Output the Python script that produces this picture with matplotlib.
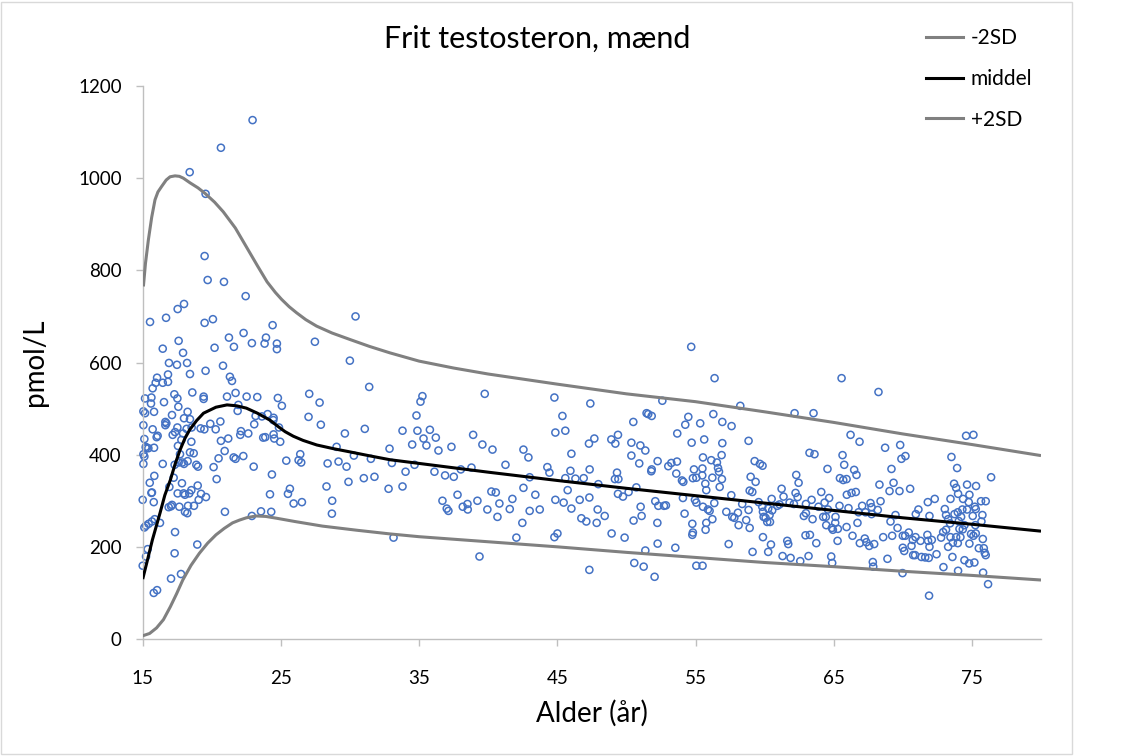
import matplotlib
matplotlib.use("Agg")
import matplotlib.pyplot as plt
from matplotlib.lines import Line2D
from matplotlib.patches import Rectangle

plt.rcParams['font.family'] = ['Lato', 'DejaVu Sans']

# ---------------- data ----------------
title = "Frit testosteron, mænd"
x_label = "Alder (år)"
y_label = "pmol/L"
x_ticks = [15, 25, 35, 45, 55, 65, 75]
y_ticks = [0, 200, 400, 600, 800, 1000, 1200]
legend_labels = ['-2SD', 'middel', '+2SD']

# reference curves (age, pmol/L)
sd_minus_age = [15.0, 15.5, 16.0, 16.5, 17.0, 17.45, 17.9, 18.5, 19.1, 19.7, 20.3, 20.9, 21.5,
                22.0, 22.5, 23.2, 23.9, 24.7, 26.0, 28.0, 30.5, 32.9, 35, 40, 45, 50, 55,
                60, 65, 70, 75, 80]
sd_minus_val = [7, 12, 24, 42, 70, 98, 128, 160, 186, 208, 226, 240, 252,
                258, 263, 267, 266, 262, 255, 245, 236, 228, 222, 211, 200, 188, 177,
                166, 157, 147, 138, 128]

mid_age = [15.0, 15.35, 15.7, 16.25, 16.6, 17.0, 17.35, 17.7, 18.05, 18.4, 18.9, 19.4, 20.3,
           21.1, 21.8, 22.5, 23.3, 24.2, 24.8, 25.3, 25.9, 26.6, 27.6, 28.8, 30.0, 31.5,
           32.9, 35, 40, 45, 50, 55, 60, 65, 70, 75, 80]
mid_val = [130, 172, 215, 273, 312, 345, 380, 410, 435, 454, 474, 490, 503,
           508, 506, 501, 490, 475, 461, 450, 440, 431, 421, 413, 406, 397,
           389, 381, 362, 344, 327, 311, 295, 279, 263, 249, 234]

sd_plus_age = [15.05, 15.2, 15.41, 15.65, 15.89, 16.1, 16.37, 16.7, 16.98, 17.34, 17.65, 17.94,
               18.42, 19.0, 19.51, 20.2, 20.83, 21.7, 22.52, 23.3, 24.0, 24.6, 25.05, 25.6,
               26.13, 26.8, 27.58, 28.7, 29.99, 31.4, 32.88, 35, 37.5, 40, 42.5, 45, 50, 55,
               60, 65, 70, 75, 80]
sd_plus_val = [765, 815, 866, 915, 953, 970, 982, 996, 1003, 1005, 1004, 1000,
               990, 979, 967, 948, 927, 892, 850, 810, 775, 752, 737, 721,
               708, 693, 679, 664, 650, 635, 621, 603, 588, 575, 564, 553, 532, 515,
               493, 470, 445, 422, 398]

# individual measurements
obs_age = [
    22.95, 20.66, 18.40, 19.55, 19.48, 19.70, 20.88, 22.45, 15.53, 16.69, 17.53, 17.99, 19.48, 20.08,
    30.40, 16.45, 17.60, 17.92, 20.20, 21.24, 21.60, 22.30, 22.90, 23.82, 23.92, 24.40, 24.71, 24.71,
    27.46,
    16.90, 17.48, 18.21, 18.42, 19.55, 20.81, 21.31, 21.46, 16.04, 15.94, 16.45, 16.83, 16.83, 15.72,
    15.63, 15.17, 15.60, 17.29, 18.59, 17.51, 16.54, 19.41, 19.41, 21.10, 21.72, 22.52, 23.29, 24.78,
    25.07, 27.05, 27.80, 31.39, 29.99, 15.05, 15.17, 15.82, 18.25, 17.58, 21.92, 21.87, 23.17, 23.63,
    24.04, 24.47, 27.00, 15.05, 15.72, 16.08, 16.01, 16.64, 16.64, 16.71, 17.12, 17.51, 17.99, 18.18,
    17.92, 18.42, 18.54, 19.19, 19.46, 19.89, 20.28, 20.62, 22.11, 22.06, 22.64, 23.07, 23.72, 23.87,
    24.47, 24.52, 24.95, 24.45, 24.86, 27.89, 29.63, 31.07, 15.12, 15.22, 15.24, 15.41, 15.05, 15.12,
    15.82, 17.34, 17.17, 17.55, 17.70, 17.80, 18.52, 18.69, 18.42, 20.66, 21.19, 20.93, 20.49, 21.58,
    21.72, 22.28, 26.40, 26.47, 25.39, 26.28, 29.03, 30.28, 31.51, 15.05, 16.45, 15.84, 17.31, 17.60,
    17.87, 17.99, 18.25, 18.88, 19.00, 20.13, 20.35, 23.03, 24.35, 28.38, 29.17, 29.75, 31.00, 31.77,
    29.89, 28.30, 15.51, 15.67, 15.63, 16.93, 17.24, 17.53, 17.84, 17.96, 18.06, 18.37, 18.52, 18.98,
    19.05, 19.22, 19.58, 24.21, 25.51, 25.65, 28.71, 15.00, 15.80, 16.88, 17.05, 17.12, 17.65, 18.06,
    18.23, 18.28, 18.71, 20.95, 22.90, 23.56, 24.30, 25.92, 26.52, 28.69, 16.25, 15.67, 15.43, 15.24,
    15.12, 15.87, 17.34, 18.95, 15.36, 15.24, 17.31, 15.00, 17.05, 17.77, 15.80, 16.04,
    54.69, 39.75, 35.24, 35.10, 44.79, 47.39, 52.60, 34.81, 45.37, 51.46, 51.58, 51.83, 54.48, 50.50,
    54.26, 55.34, 33.80, 34.88, 35.78, 35.32, 36.21, 38.91, 44.86, 45.58, 53.68, 48.91, 47.68, 49.39,
    34.50, 35.53, 37.34, 39.58, 42.55, 40.31, 36.40, 32.86, 47.29, 49.20, 50.36, 51.01, 51.37, 54.72,
    55.63, 42.91, 46.02, 50.36, 50.93, 52.26, 53.66, 53.25, 53.03, 55.54, 33.03, 34.67, 41.25, 38.79,
    38.02, 34.02, 36.11, 36.88, 37.51, 44.28, 44.43, 45.95, 47.34, 51.83, 51.80, 53.61, 54.89, 55.06,
    55.49, 54.81, 55.71, 43.00, 45.58, 46.31, 46.91, 49.17, 49.42, 49.32, 54.02, 54.12, 47.97, 50.72,
    32.79, 33.80, 37.78, 40.23, 40.55, 42.55, 43.41, 45.75, 49.39, 49.75, 50.16, 55.78, 36.69, 38.16,
    38.50, 38.52, 37.00, 37.12, 39.22, 39.94, 40.81, 41.56, 41.75, 43.00, 43.73, 44.86, 45.46, 46.02,
    46.62, 47.32, 47.92, 48.43, 51.03, 51.10, 52.09, 52.31, 52.72, 52.86, 54.09, 54.96, 55.06, 55.54,
    55.90, 40.67, 42.47, 46.74, 47.10, 47.85, 50.52, 52.24, 54.21, 54.77, 55.78, 33.15, 42.04, 44.79,
    45.01, 48.93, 49.87, 54.81, 54.77, 55.73, 39.37, 51.37, 52.26, 53.54, 47.32, 50.57, 51.25, 52.04,
    55.06, 55.51,
    56.38, 65.57, 68.24, 58.24, 62.17, 63.54, 56.29, 56.94, 57.61, 74.58, 75.11, 66.22, 66.87, 56.94,
    58.84, 68.72, 69.81, 56.89, 56.14, 56.55, 63.25, 63.61, 65.64, 73.52, 69.90, 70.19, 59.28, 59.66,
    59.85, 65.76, 64.55, 69.18, 73.93, 76.39, 56.63, 56.70, 56.22, 56.91, 58.99, 59.35, 62.29, 62.46,
    66.48, 66.65, 65.45, 65.69, 65.93, 68.31, 69.33, 73.71, 73.86, 74.65, 75.30, 56.75, 57.59, 58.92,
    59.11, 61.23, 61.37, 62.24, 62.39, 64.10, 64.67, 65.95, 66.29, 66.60, 69.04, 69.76, 70.53, 74.00,
    74.82, 56.36, 58.38, 59.57, 60.51, 61.81, 62.12, 62.99, 63.40, 63.90, 64.34, 65.42, 66.07, 67.06,
    67.66, 67.74, 68.39, 71.81, 72.31, 73.45, 74.36, 74.77, 75.66, 76.00, 56.02, 59.83, 59.88, 60.26,
    60.55, 60.92, 61.08, 58.84, 57.23, 57.66, 57.81, 58.07, 59.93, 60.07, 60.36, 60.39, 62.84, 62.99,
    64.24, 64.43, 64.58, 65.13, 65.11, 66.80, 67.30, 67.74, 68.19, 69.47, 70.94, 71.13, 71.93, 73.04,
    73.13, 73.74, 73.98, 74.31, 74.65, 75.06, 75.21, 75.76, 75.28, 56.22, 58.67, 58.12, 58.92, 60.19,
    63.47, 64.46, 64.87, 64.94, 65.30, 65.93, 66.72, 69.11, 69.62, 73.28, 73.42, 74.05, 74.22, 74.46,
    75.69, 75.25, 74.10, 74.34, 74.94, 75.11, 75.28, 73.13, 72.92, 59.88, 61.64, 61.71, 62.96, 63.28,
    63.74, 65.28, 66.36, 66.89, 67.25, 67.37, 67.57, 67.93, 68.58, 69.23, 70.00, 70.17, 70.43, 70.63,
    70.72, 70.92, 71.28, 71.78, 71.83, 71.93, 72.10, 72.77, 73.45, 73.86, 74.17, 73.28, 73.62, 73.98,
    74.82, 75.50, 75.79, 75.86, 75.93, 76.00, 57.40, 59.13, 60.26, 60.46, 61.30, 61.88, 62.58, 63.18,
    64.82, 64.89, 67.83, 67.86, 68.89, 70.00, 70.10, 70.75, 70.89, 71.35, 71.62, 71.88, 72.44, 73.59,
    74.46, 74.80, 75.18, 69.98, 72.94, 74.00, 75.81, 76.17, 71.90, 55.50,
]
obs_val = [
    1126, 1066, 1013, 966, 831, 779, 775, 744, 688, 697, 716, 727, 686, 694,
    700, 630, 647, 621, 632, 654, 634, 664, 642, 641, 654, 681, 641, 629,
    645,
    599, 595, 599, 575, 582, 593, 569, 560, 567, 556, 556, 574, 558, 544,
    524, 522, 511, 531, 535, 522, 514, 526, 521, 526, 534, 526, 525, 523,
    506, 532, 513, 547, 604, 494, 490, 493, 493, 504, 508, 495, 484, 483,
    488, 480, 482, 464, 455, 441, 438, 464, 471, 468, 486, 459, 479, 456,
    446, 477, 459, 457, 455, 467, 455, 472, 451, 443, 446, 466, 437, 438,
    444, 435, 428, 475, 459, 465, 446, 456, 434, 417, 414, 414, 401, 396,
    415, 449, 443, 419, 401, 432, 428, 403, 405, 430, 435, 408, 392, 394,
    391, 397, 401, 383, 387, 388, 417, 398, 391, 380, 380, 354, 378, 383,
    383, 380, 386, 378, 374, 373, 347, 374, 357, 381, 385, 374, 349, 352,
    341, 331, 339, 318, 317, 330, 350, 316, 338, 316, 313, 316, 323, 333,
    302, 315, 308, 314, 315, 326, 300, 302, 297, 286, 288, 291, 287, 276,
    273, 289, 289, 276, 267, 277, 276, 294, 297, 272, 252, 255, 250, 246,
    242, 260, 232, 205, 195, 179, 186, 159, 131, 141, 100, 106,
    634, 532, 527, 515, 524, 511, 517, 485, 484, 490, 488, 484, 482, 471,
    465, 468, 452, 452, 454, 435, 437, 443, 448, 452, 446, 433, 435, 443,
    422, 420, 417, 422, 411, 411, 409, 413, 424, 424, 426, 420, 409, 426,
    433, 394, 402, 398, 381, 386, 385, 382, 375, 394, 382, 378, 378, 372,
    368, 363, 363, 355, 352, 373, 361, 365, 368, 368, 364, 359, 368, 350,
    355, 349, 337, 351, 349, 348, 349, 347, 347, 361, 344, 341, 336, 329,
    326, 331, 313, 320, 318, 328, 313, 323, 315, 309, 319, 323, 300, 287,
    293, 281, 283, 278, 300, 281, 294, 282, 304, 278, 281, 302, 296, 283,
    302, 307, 281, 267, 287, 267, 299, 289, 289, 290, 306, 302, 296, 287,
    281, 265, 252, 262, 255, 252, 257, 252, 272, 250, 252, 220, 220, 221,
    229, 229, 220, 231, 226, 237, 179, 192, 207, 198, 150, 165, 157, 135,
    159, 159,
    566, 566, 536, 506, 490, 490, 488, 471, 462, 441, 443, 443, 428, 425,
    430, 415, 421, 399, 388, 383, 404, 401, 399, 395, 391, 397, 386, 380,
    376, 378, 369, 369, 371, 351, 371, 363, 350, 347, 352, 341, 356, 339,
    367, 356, 349, 345, 347, 335, 339, 337, 328, 335, 332, 330, 312, 322,
    319, 326, 309, 317, 308, 319, 306, 313, 317, 319, 321, 321, 326, 315,
    313, 295, 293, 297, 304, 296, 293, 293, 302, 287, 296, 289, 284, 289,
    295, 286, 299, 297, 304, 304, 304, 297, 299, 299, 278, 287, 276, 283,
    279, 289, 292, 280, 276, 265, 263, 274, 265, 263, 269, 254, 267, 273,
    265, 265, 281, 265, 252, 275, 275, 271, 280, 269, 271, 281, 267, 282,
    269, 271, 275, 281, 281, 267, 287, 269, 282, 260, 258, 247, 241, 254,
    260, 247, 241, 237, 239, 243, 252, 255, 241, 260, 251, 256, 265, 247,
    255, 247, 239, 238, 228, 224, 229, 237, 232, 221, 213, 206, 225, 226,
    208, 213, 224, 208, 218, 210, 202, 206, 221, 224, 224, 224, 231, 202,
    215, 221, 213, 226, 213, 200, 215, 220, 221, 221, 221, 200, 209, 208,
    207, 197, 217, 197, 187, 182, 206, 189, 189, 205, 180, 176, 169, 180,
    179, 165, 167, 157, 174, 198, 191, 182, 182, 178, 177, 176, 184, 178,
    171, 164, 166, 143, 156, 148, 144, 119, 94, 370,
]

# ---------------- figure ----------------
W, H = 1134, 756
fig = plt.figure(figsize=(W / 100, H / 100), dpi=100)
fig.patch.set_facecolor('white')
fig.patches.append(Rectangle((1 / W, 2 / H), 1071 / W, 752 / H, transform=fig.transFigure,
                             fill=False, edgecolor='#D9D9D9', linewidth=1.0))

ax = fig.add_axes([142.7 / W, 1 - 639 / H, (1041 - 142.7) / W, (639 - 86) / H])
ax.set_xlim(15, 80)
ax.set_ylim(0, 1200)

grey_line = '#808080'
ax.scatter(obs_age, obs_val, s=26, facecolors='none', edgecolors='#4472C4', linewidths=1.1,
           zorder=2, clip_on=False)
line_kw = dict(lw=2.2, zorder=3, solid_capstyle='butt', solid_joinstyle='round')
ax.plot(sd_minus_age, sd_minus_val, color=grey_line, **line_kw)
ax.plot(mid_age, mid_val, color='black', **line_kw)
ax.plot(sd_plus_age, sd_plus_val, color=grey_line, **line_kw)

for s in ['top', 'right']:
    ax.spines[s].set_visible(False)
for s in ['left', 'bottom']:
    ax.spines[s].set_color('#BFBFBF')
    ax.spines[s].set_linewidth(1.0)

ax.set_xticks(x_ticks)
ax.set_yticks(y_ticks)
ax.tick_params(axis='both', direction='out', length=5, width=1.0, color='#BFBFBF',
               labelsize=13.5, labelcolor='black')
ax.tick_params(axis='x', pad=17)
ax.tick_params(axis='y', pad=10)

ax.set_xlabel(x_label, fontsize=20)
ax.xaxis.label.set_va('center')
ax.xaxis.set_label_coords(0.5, (639 - 713) / (639 - 86))
ax.set_ylabel(y_label, fontsize=20)
ax.yaxis.label.set_va('center')
ax.yaxis.set_label_coords((35 - 142.7) / (1041 - 142.7), 0.5)

fig.text(537 / W, 1 - 39 / H, title, fontsize=22, ha='center', va='center')

handles = [Line2D([], [], color=grey_line, lw=2.2),
           Line2D([], [], color='black', lw=2.2),
           Line2D([], [], color=grey_line, lw=2.2)]
fig.legend(handles, legend_labels, loc='upper left',
           bbox_to_anchor=(926 / W, 1 - 28 / H), frameon=False, fontsize=15,
           borderpad=0, borderaxespad=0, handlelength=1.78, handletextpad=0.38,
           labelspacing=1.0)

fig.savefig('out.png', dpi=100, facecolor='white')
